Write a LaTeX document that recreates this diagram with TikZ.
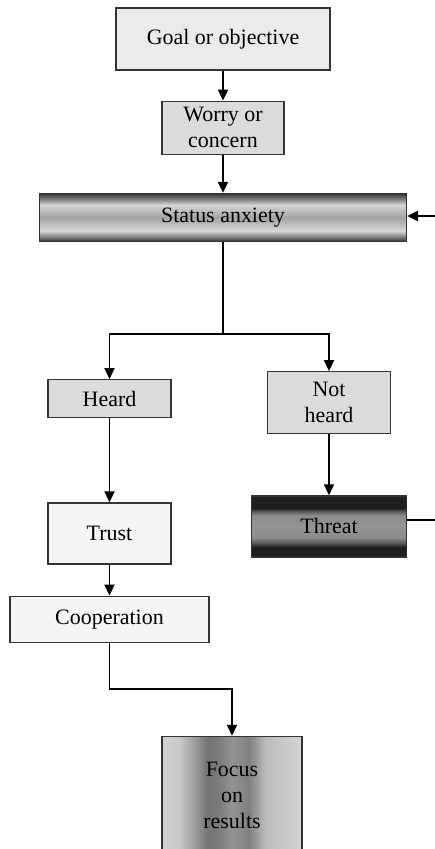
\documentclass[tikz,border=0pt]{standalone}
\usepackage{fontspec}
\setmainfont{Liberation Serif}
\usepackage{tikz}
\usetikzlibrary{arrows.meta, positioning}
\tikzstyle{arrow}  = [line width=1.1pt, -{Triangle[length=2.2mm, width=2mm]}]

% shadings (stops between 25bp and 75bp are the visible part)
\pgfdeclareverticalshading{anxietyshade}{100bp}{
  color(0bp)=(black!80); color(25bp)=(black!80); color(29bp)=(black!55);
  color(36bp)=(black!16); color(50bp)=(black!36); color(63bp)=(black!16);
  color(70bp)=(black!55); color(75bp)=(black!80); color(100bp)=(black!80)}
\pgfdeclareverticalshading{threatshade}{100bp}{
  color(0bp)=(black!88); color(25bp)=(black!88); color(33bp)=(black!88);
  color(37bp)=(black!62); color(41bp)=(black!45); color(50bp)=(black!42);
  color(59bp)=(black!45); color(62bp)=(black!62); color(65bp)=(black!88);
  color(75bp)=(black!88); color(100bp)=(black!88)}
\pgfdeclarehorizontalshading{focusshade}{100bp}{
  color(0bp)=(black!18); color(25bp)=(black!18); color(31bp)=(black!21);
  color(36bp)=(black!36); color(41bp)=(black!54); color(45bp)=(black!52);
  color(50bp)=(black!42); color(56bp)=(black!50); color(62bp)=(black!26);
  color(75bp)=(black!17); color(100bp)=(black!17)}

\begin{document}
\begin{tikzpicture}[
        base/.style    ={draw=black!80, line width=0.7pt, inner sep=0pt, align=center,
                         font=\rmfamily\fontsize{12.5}{14.8}\selectfont},
        paleBox/.style ={base, fill=black!8},
        greyBox/.style ={base, fill=black!14},
        whiteBox/.style={base, fill=black!4},
        anxiety/.style ={base, shading=anxietyshade},
        threat/.style  ={base, shading=threatshade},
        focus/.style   ={base, shading=focusshade}
    ]
    \useasboundingbox (0,0) rectangle (8.7,-16.98);

    % --- nodes ---
    \node[paleBox, minimum width=4.28cm, minimum height=1.24cm] (goal) at (4.46,-0.78) {Goal or objective};

    \node[greyBox, minimum width=2.44cm, minimum height=1.06cm, below=0.6cm of goal] (worry) {Worry or\\concern};

    \node[anxiety, minimum width=7.34cm, minimum height=0.96cm, below=0.76cm of worry] (status) {Status anxiety};

    \node[greyBox, minimum width=2.46cm, minimum height=0.76cm, below=2.74cm of status, xshift=-2.27cm] (heard) {Heard};

    \node[greyBox, minimum width=2.46cm, minimum height=1.24cm, below=2.58cm of status, xshift=2.12cm] (notheard) {Not\\heard};

    \node[threat, minimum width=3.1cm, minimum height=1.22cm, below=1.22cm of notheard] (threat) {Threat};

    \node[whiteBox, minimum width=2.46cm, minimum height=1.22cm, below=1.68cm of heard] (trust) {Trust};

    \node[whiteBox, minimum width=3.98cm, minimum height=0.92cm, below=0.62cm of trust] (coop) {Cooperation};

    \node[focus, minimum width=2.8cm, minimum height=2.38cm, below=1.86cm of coop, xshift=2.45cm] (results) {Focus\\on\\results};

    \coordinate (loopin)  at (8.7,-4.32);
    \coordinate (loopout) at (8.7,-10.4);

    % --- arrows ---
    \draw[arrow] (goal) -- (worry);
    \draw[arrow] (worry) -- (status);
    \draw[line width=1.1pt] (status.south) -- ++(0,-1.84) coordinate (split);
    \draw[arrow] (split) -| (heard);
    \draw[arrow] (split) -| (notheard);
    \draw[arrow] (notheard) -- (threat);
    \draw[arrow] (heard) -- (trust);
    \draw[arrow] (trust) -- (coop);
    \draw[arrow] (coop.south) -- ++(0,-0.92) -| (results);
    \draw[arrow] (loopin) -- (loopin -| status.east);
    \draw[line width=1.1pt] (threat.east |- loopout) -- (loopout);

\end{tikzpicture}
\end{document}
